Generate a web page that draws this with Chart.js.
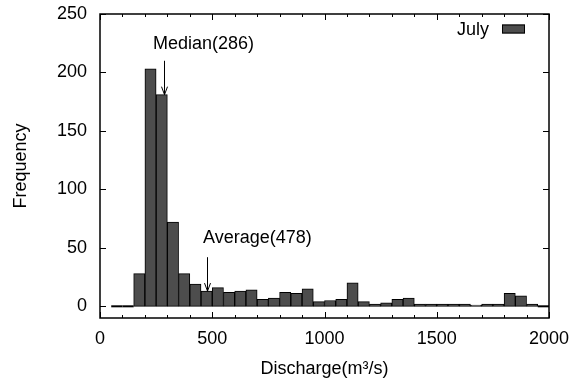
<!DOCTYPE html>
<html>
<head>
<meta charset="utf-8">
<script src="https://cdn.jsdelivr.net/npm/chart.js@4/dist/chart.umd.min.js"></script>
<style>
  html, body { margin: 0; padding: 0; background: #fff; }
  #wrap { width: 587px; height: 382px; }
</style>
</head>
<body>
<div id="wrap"><canvas id="histChart"></canvas></div>
<script>
// Discharge histogram, 50 m3/s bins
const binCenters = [75, 125, 175, 225, 275, 325, 375, 425, 475, 525, 575, 625, 675, 725, 775,
    825, 875, 925, 975, 1025, 1075, 1125, 1175, 1225, 1275, 1325, 1375, 1425, 1475, 1525,
    1575, 1625, 1675, 1725, 1775, 1825, 1875, 1925, 1975];
const julyCounts = [0, 0, 28, 203, 181, 72, 28, 19, 13, 16, 12, 13, 14, 6, 7,
    12, 11, 15, 4, 5, 6, 20, 4, 2, 3, 6, 7, 2, 2, 2,
    2, 2, 1, 2, 2, 11, 9, 2, 0];
const binWidth = 50;

const xTicks = [0, 500, 1000, 1500, 2000];
const xMinorTicks = [100, 200, 300, 400, 600, 700, 800, 900, 1100, 1200, 1300, 1400, 1600, 1700, 1800, 1900];
const yTicks = [0, 50, 100, 150, 200, 250];

// Arrow labels: text, value the arrow points at, label anchor, arrow tail height
const markerLabels = ['Median(286)', 'Average(478)'];
const markerValues = [286, 478];
const markerTextX = [236, 459];
const markerTextY = [224, 58];
const markerArrowFrom = [210, 42];

const FONT = "'Liberation Sans', Arial, Helvetica, sans-serif";
const BAR_FILL = '#4d4d4d';

function countAt(v) {
    const i = binCenters.findIndex(c => Math.abs(v - c) <= binWidth / 2);
    return i >= 0 ? julyCounts[i] : 0;
}

// gnuplot-like frame: inward ticks, box, flat zero bins, labels, key
const framePlugin = {
    id: 'frame',
    afterDatasetsDraw(chart) {
        const ctx = chart.ctx;
        const { left, right, top, bottom } = chart.chartArea;
        const xs = chart.scales.x;
        const ys = chart.scales.y;

        ctx.save();
        ctx.strokeStyle = '#000';

        // empty bins show as a line on the baseline
        ctx.lineWidth = 2;
        const meta = chart.getDatasetMeta(0);
        meta.data.forEach((bar, i) => {
            if (julyCounts[i] !== 0) return;
            const y0 = ys.getPixelForValue(0);
            ctx.beginPath();
            ctx.moveTo(bar.x - bar.width / 2, y0);
            ctx.lineTo(bar.x + bar.width / 2, y0);
            ctx.stroke();
        });

        // ticks
        ctx.lineWidth = 1;
        ctx.beginPath();
        yTicks.forEach(v => {
            const y = Math.round(ys.getPixelForValue(v)) + 0.5;
            ctx.moveTo(left, y); ctx.lineTo(left + 6, y);
            ctx.moveTo(right, y); ctx.lineTo(right - 6, y);
        });
        xTicks.forEach(v => {
            const x = Math.round(xs.getPixelForValue(v)) + 0.5;
            ctx.moveTo(x, bottom); ctx.lineTo(x, bottom - 6);
            ctx.moveTo(x, top); ctx.lineTo(x, top + 6);
        });
        xMinorTicks.forEach(v => {
            const x = Math.round(xs.getPixelForValue(v)) + 0.5;
            ctx.moveTo(x, bottom); ctx.lineTo(x, bottom - 3);
            ctx.moveTo(x, top); ctx.lineTo(x, top + 3);
        });
        ctx.stroke();

        // border
        ctx.lineWidth = 1.5;
        ctx.strokeRect(left, top, right - left, bottom - top);

        // median / average arrows
        ctx.fillStyle = '#000';
        ctx.font = '18px ' + FONT;
        ctx.textAlign = 'left';
        ctx.textBaseline = 'middle';
        ctx.lineWidth = 1;
        markerLabels.forEach((txt, i) => {
            ctx.fillText(txt, xs.getPixelForValue(markerTextX[i]), ys.getPixelForValue(markerTextY[i]));
            const ax = Math.round(xs.getPixelForValue(markerValues[i])) + 0.5;
            const y1 = ys.getPixelForValue(markerArrowFrom[i]);
            const y2 = ys.getPixelForValue(countAt(markerValues[i]));
            ctx.beginPath();
            ctx.moveTo(ax, y1); ctx.lineTo(ax, y2);
            ctx.moveTo(ax - 3, y2 - 8); ctx.lineTo(ax, y2); ctx.lineTo(ax + 3, y2 - 8);
            ctx.stroke();
        });

        // key
        const ds = chart.data.datasets[0];
        const boxR = right - 24, boxW = 23, boxH = 9, keyY = top + 15;
        ctx.textAlign = 'right';
        ctx.fillText(ds.label, boxR - boxW - 13, keyY + 1);
        ctx.fillStyle = BAR_FILL;
        ctx.fillRect(boxR - boxW, keyY - boxH / 2, boxW, boxH);
        ctx.strokeRect(boxR - boxW + 0.5, keyY - boxH / 2 + 0.5, boxW - 1, boxH - 1);
        ctx.restore();
    }
};

const ctx = document.getElementById('histChart').getContext('2d');
new Chart(ctx, {
    type: 'bar',
    data: {
        datasets: [{
            label: 'July',
            data: binCenters.map((c, i) => ({ x: c, y: julyCounts[i] })),
            backgroundColor: BAR_FILL,
            borderColor: '#000',
            borderWidth: 1,
            borderSkipped: false,
            categoryPercentage: 1.0,
            barPercentage: 1.0
        }]
    },
    options: {
        responsive: true,
        maintainAspectRatio: false,
        animation: false,
        layout: { padding: { top: 14, right: 38, left: 0, bottom: 0 } },
        plugins: {
            legend: { display: false },
            tooltip: { enabled: false }
        },
        scales: {
            x: {
                type: 'linear',
                min: 0,
                max: 2000,
                offset: false,
                grid: { display: false, drawTicks: false },
                border: { display: false },
                afterBuildTicks: scale => { scale.ticks = xTicks.map(v => ({ value: v })); },
                afterFit: scale => { scale.height = 64; },
                ticks: {
                    color: '#000',
                    font: { family: FONT, size: 18 },
                    padding: 10,
                    maxRotation: 0,
                    callback: v => String(v)
                },
                title: {
                    display: true,
                    text: 'Discharge(m³/s)',
                    color: '#000',
                    font: { family: FONT, size: 18 },
                    padding: { top: 0, bottom: 2 }
                }
            },
            y: {
                min: -10,
                max: 250,
                grid: { display: false, drawTicks: false },
                border: { display: false },
                afterBuildTicks: scale => { scale.ticks = yTicks.map(v => ({ value: v })); },
                afterFit: scale => {
                    scale.width = 100;
                    scale.paddingTop = 0;
                    scale.paddingBottom = 0;
                },
                ticks: {
                    color: '#000',
                    font: { family: FONT, size: 18 },
                    padding: 13
                },
                title: {
                    display: true,
                    text: 'Frequency',
                    color: '#000',
                    font: { family: FONT, size: 18 },
                    padding: { top: 10, bottom: 0 }
                }
            }
        }
    },
    plugins: [framePlugin]
});
</script>
</body>
</html>
